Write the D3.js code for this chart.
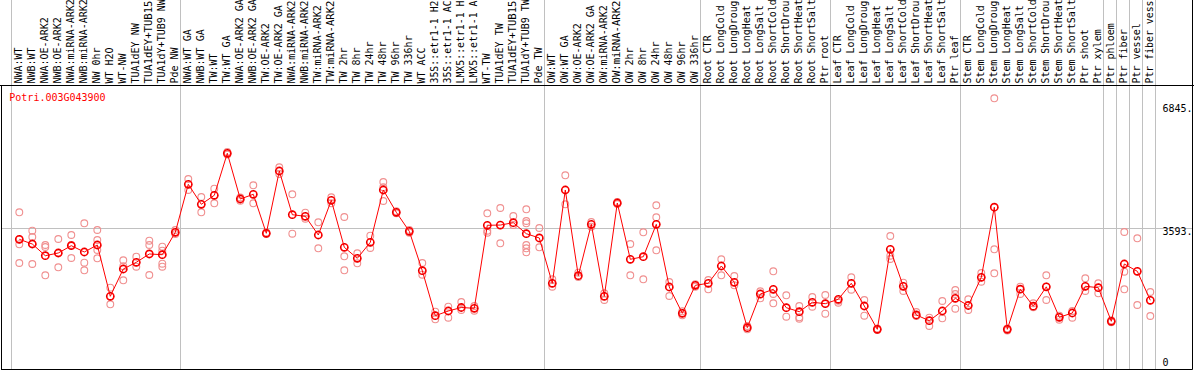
<!DOCTYPE html>
<html><head><meta charset="utf-8">
<script src="https://cdn.jsdelivr.net/npm/d3@7"></script>
<style>
body{margin:0;background:#fff}
svg{display:block}
text{font-family:"DejaVu Sans Mono","Liberation Mono",monospace;font-size:10px}
</style>
</head><body><svg id="c" width="1194" height="370"></svg>
<script>
const geneId = "Potri.003G043900";

const groupNW = ["NWA:WT","NWB:WT","NWA:OE-ARK2","NWB:OE-ARK2","NWA:miRNA-ARK2","NWB:miRNA-ARK2","NW 0hr","WT H2O","WT-NW","TUA1dEY NW","TUA1dEY+TUB15 NW","TUA1dY+TUB9 NW","Pde NW"];
const groupTW = ["NWA:WT GA","NWB:WT GA","TW:WT","TW:WT GA","NWA:OE-ARK2 GA","NWB:OE-ARK2 GA","TW:OE-ARK2","TW:OE-ARK2 GA","NWA:miRNA-ARK2 GA","NWB:miRNA-ARK2 GA","TW:miRNA-ARK2","TW:miRNA-ARK2 GA","TW 2hr","TW 8hr","TW 24hr","TW 48hr","TW 96hr","TW 336hr","WT ACC","35S::etr1-1 H2O","35S::etr1-1 ACC","LMX5::etr1-1 H2O","LMX5::etr1-1 ACC","WT-TW","TUA1dEY TW","TUA1dEY+TUB15 TW","TUA1dY+TUB9 TW","Pde TW"];
const groupOW = ["OW:WT","OW:WT GA","OW:OE-ARK2","OW:OE-ARK2 GA","OW:miRNA-ARK2","OW:miRNA-ARK2 GA","OW 2hr","OW 8hr","OW 24hr","OW 48hr","OW 96hr","OW 336hr"];
const groupRoot = ["Root CTR","Root LongCold","Root LongDrought","Root LongHeat","Root LongSalt","Root ShortCold","Root ShortDrought","Root ShortHeat","Root ShortSalt","Ptr root"];
const groupLeaf = ["Leaf CTR","Leaf LongCold","Leaf LongDrought","Leaf LongHeat","Leaf LongSalt","Leaf ShortCold","Leaf ShortDrought","Leaf ShortHeat","Leaf ShortSalt","Ptr leaf"];
const groupStem = ["Stem CTR","Stem LongCold","Stem LongDrought","Stem LongHeat","Stem LongSalt","Stem ShortCold","Stem ShortDrought","Stem ShortHeat","Stem ShortSalt","Ptr shoot","Ptr xylem"];
const groupPhloem = ["Ptr phloem"];
const groupFiber = ["Ptr fiber"];
const groupVessel = ["Ptr vessel"];
const groupFiberVessel = ["Ptr fiber vessel"];
const groups = [groupNW, groupTW, groupOW, groupRoot, groupLeaf, groupStem, groupPhloem, groupFiber, groupVessel, groupFiberVessel];

const means = [
 3289,3165,2857,2928,3121,2954,3139,1786,2506,2683,2902,2883,3474,
 4740,4213,4450,5558,4352,4476,3448,5091,3938,3896,3403,4318,3078,2788,3210,4590,4002,3500,2461,1274,1398,1490,1469,3659,3665,3727,3437,3324,
 2129,4590,2329,3685,1786,4247,2762,2830,3685,2031,1337,2076,
 2129,2585,2155,958,1846,1970,1485,1380,1628,1591,
 1707,2129,1530,915,3026,2050,1293,1142,1398,1733,
 1543,2287,4136,915,1973,1525,2036,1232,1345,2050,2013,
 1126,2638,2445,1680
];

const replicates = [
 [4002,3289,3157,2664],[3516,3350,3165,2638],[3139,3086,2340],[3297,2928,2551],[3403,3139,2796],[3711,2672,2472],[3535,3271,3007,2788],[2013,1575],[2735,2208,2580],[2830,2567],[3252,3139,2348],[3094,2990,2646,2567],[3535,3429],
 [4880,4590],[4405,4002],[4624,4239],[5592,5526],[4308,4392],[4714,4239],[3429,3469],[5189,5012],[4476,3437],[3991,3833],[3738,3052],[4397,4239],[3878,2841,2472],[2920,2656],[3384,3060],[4801,4661,4300],[4028,3975],[3535,3464],[2664,2356],[1380,1179],[1511,1221],[1635,1424],[1530,1406],[3975,3516,3463],[4115,3184],[3904,3667],[4081,3772,3711,3139,3052,2946],[3587,3078],
 [2234,2039],[4978,4213],[2408,2295],[3746,3622],[1865,1688],[4273,4220],[3165,2340],[3474,2234],[4186,3870,2999],[2163,1794],[1390,1285],[2102,2039],
 [2216,1970],[2762,2340],[2321,2076],[1002,915],[1918,1733],[2445,1846,1601],[1812,1248],[1530,1232,1195],[1767,1511],[1820,1327],
 [1670,1617],[2287,1960],[1688,1274],[897,936],[3376,2857,2770],[2145,1926],[1372,1266],[1221,1002],[1662,1205],[1952,1846,1459],
 [1707,1424],[2400,2171],[7009,3026,2392],[941,884],[2039,1846],[1601,1496],[2340,2039,1688],[1274,1169],[1398,1221],[2261,1926],[2129,1865],
 [1153,1100],[3482,2435,1970],[3316,1556],[1899,1266]
];

const yTicks = [0, 3593, 6845];
const yTickLabels = ["0", "3593.", "6845."];
const gridValue = 3593;

const categories = [].concat(...groups);
const idx = categories.map((d, i) => i);

const W = 1194, H = 370;
const headerBottom = 85.5, plotBottom = 369.5, rightEdge = 1192.5;
const maxLabelChars = 14; // header space fits ~14 monospace characters

const svg = d3.select("#c");
svg.append("rect").attr("width", W).attr("height", H).attr("fill", "#fff");

const x = d3.scaleBand().domain(idx).range([10.7, 10.7 + 13 * categories.length]).paddingInner(0).paddingOuter(0);
const y = d3.scaleLinear().domain([0, 6845]).range([364, 104.5]);
const cx = i => x(i) + 8.6;

// group boundaries
let starts = [];
let acc = 0;
groups.forEach(g => { starts.push(acc); acc += g.length; });
starts.push(acc);
const bx = i => (i < categories.length ? x(i) : x(categories.length - 1) + x.bandwidth());

svg.append("g").selectAll("line").data(starts).join("line")
  .attr("x1", d => Math.round(bx(d)) + 0.5).attr("x2", d => Math.round(bx(d)) + 0.5)
  .attr("y1", 0).attr("y2", plotBottom)
  .attr("stroke", "#c0c0c0").attr("stroke-width", 1);

// horizontal grid
svg.append("line")
  .attr("x1", 1).attr("x2", rightEdge)
  .attr("y1", Math.round(y(gridValue)) + 0.5).attr("y2", Math.round(y(gridValue)) + 0.5)
  .attr("stroke", "#c0c0c0").attr("stroke-width", 1);

// frame
const frame = svg.append("g").attr("stroke", "#000").attr("stroke-width", 1);
frame.append("line").attr("x1", 0).attr("x2", W).attr("y1", headerBottom).attr("y2", headerBottom);
frame.append("line").attr("x1", 1.5).attr("x2", 1.5).attr("y1", headerBottom).attr("y2", plotBottom);
frame.append("line").attr("x1", 1).attr("x2", rightEdge).attr("y1", plotBottom).attr("y2", plotBottom);
frame.append("line").attr("x1", rightEdge).attr("x2", rightEdge).attr("y1", 0).attr("y2", plotBottom);

// header labels (fit to header height)
svg.append("g").selectAll("text").data(idx).join("text")
  .attr("transform", i => `translate(${cx(i) + 2.6},83.5) rotate(-90)`)
  .attr("fill", "#000")
  .attr("textLength", i => categories[i].length > maxLabelChars ? 83 : null)
  .attr("lengthAdjust", "spacingAndGlyphs")
  .text(i => categories[i].length > maxLabelChars ? categories[i].slice(0, maxLabelChars) : categories[i]);

// title
svg.append("text").attr("x", 9.3).attr("y", 101).attr("fill", "#ff0000").text(geneId);

// y tick labels
svg.append("g").selectAll("text").data(yTicks).join("text")
  .attr("x", 1162.5)
  .attr("y", (d, i) => Math.min(y(d) + 7.5, 366))
  .attr("fill", "#000")
  .text((d, i) => yTickLabels[i]);

// replicates
const reps = [];
replicates.forEach((arr, i) => arr.forEach(v => reps.push({ i, v })));
svg.append("g").selectAll("circle").data(reps).join("circle")
  .attr("cx", d => cx(d.i)).attr("cy", d => y(d.v)).attr("r", 3.4)
  .attr("fill", "none").attr("stroke", "#f09090").attr("stroke-width", 1.1);

// mean line
svg.append("path").datum(idx)
  .attr("d", d3.line().x(i => cx(i)).y(i => y(means[i])))
  .attr("fill", "none").attr("stroke", "#ff0000").attr("stroke-width", 1);

// mean points
const mg = svg.append("g");
mg.selectAll("circle.o").data(idx).join("circle").attr("class", "o")
  .attr("cx", i => cx(i)).attr("cy", i => y(means[i])).attr("r", 3.6)
  .attr("fill", "none").attr("stroke", "#ff0000").attr("stroke-width", 1.6);
mg.selectAll("circle.k").data(idx).join("circle").attr("class", "k")
  .attr("cx", i => cx(i)).attr("cy", i => y(means[i])).attr("r", 3.6)
  .attr("fill", "none").attr("stroke", "#600000").attr("stroke-width", 0.5).attr("stroke-dasharray", "1.2 4.45").attr("stroke-dashoffset", 0.6);
</script>
</body></html>
